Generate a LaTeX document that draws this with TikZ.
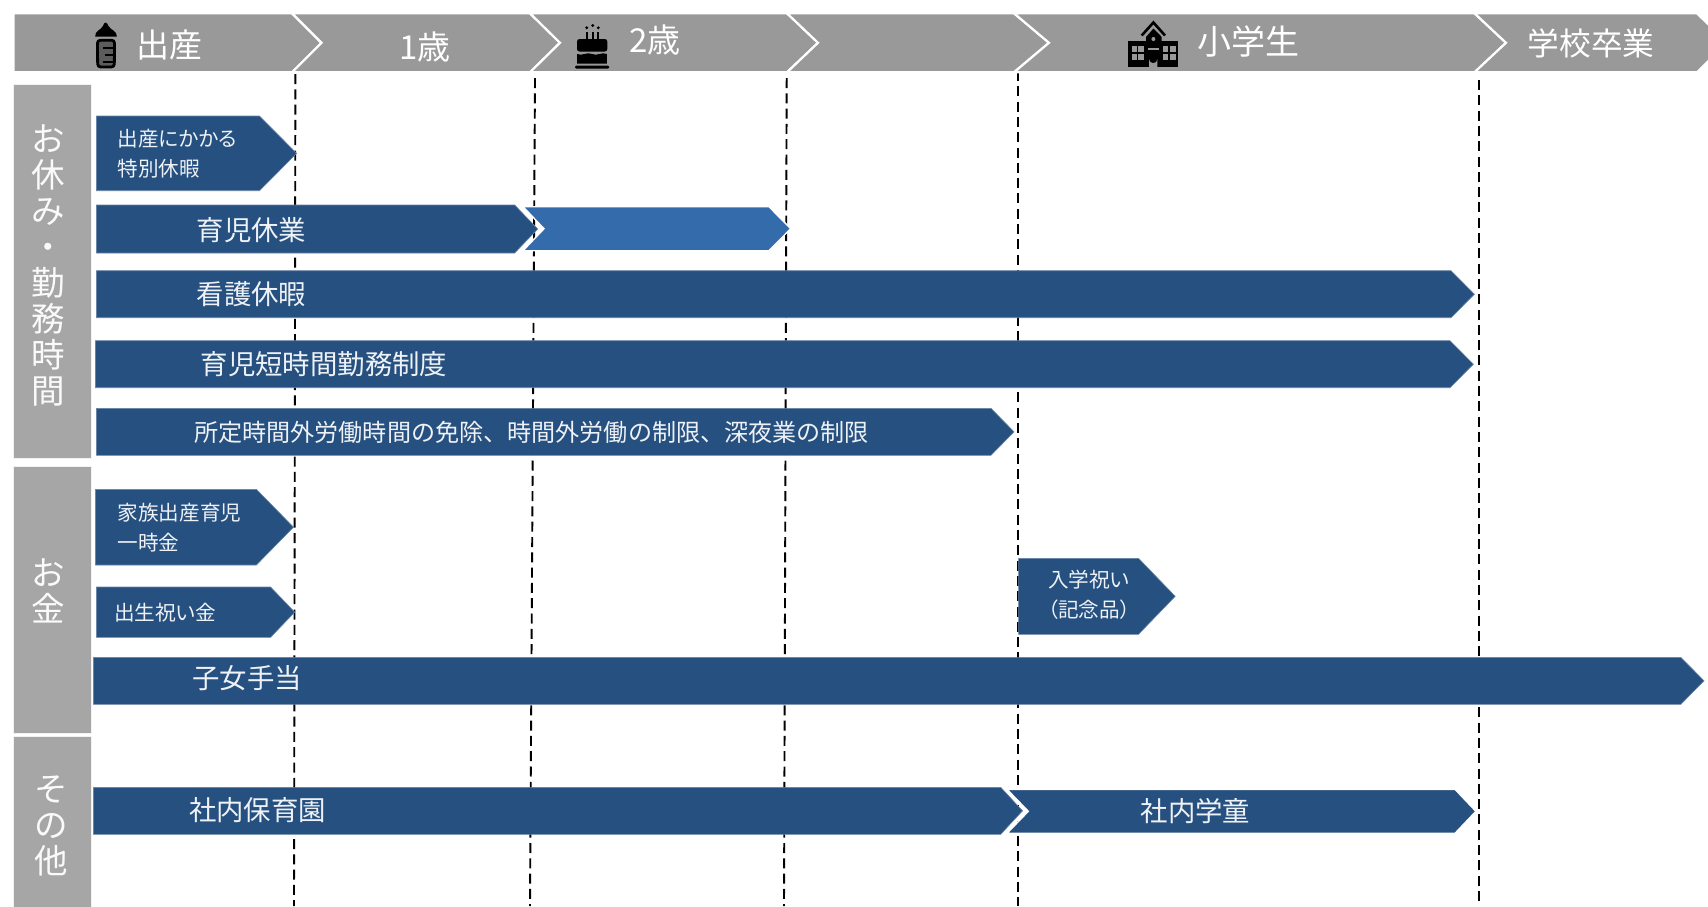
\documentclass[tikz,border=0pt]{standalone}
\usepackage{fontspec}
\setmainfont[RawFeature=+palt]{Noto Sans CJK JP}
\newfontfamily\fullwidth{Noto Sans CJK JP}
\usetikzlibrary{positioning}

\definecolor{headgray}{HTML}{999999}
\definecolor{sidegray}{HTML}{A6A6A6}
\definecolor{bardark}{HTML}{265080}
\definecolor{barlight}{HTML}{336BAB}

% style, left x, notch x, shoulder x, tip x, top y, bottom y
\newcommand{\pentbar}[7]{
    \path[#1] (#2,#6) -- (#4,#6) -- (#5,{(#6+#7)/2}) -- (#4,#7) -- (#2,#7) -- (#3,{(#6+#7)/2}) -- cycle;
}

\begin{document}
\begin{tikzpicture}[
    x=1pt, y=-1pt,
    % Shape styles
    headbar/.style={fill=headgray, draw=white, line width=2.2pt},
    bluebar/.style={fill=bardark, draw=bardark!70!white, line width=0.6pt},
    notchbar/.style={fill=#1, draw=white, line width=1.4pt},
    sidebox/.style={
        rectangle,
        fill=sidegray,
        draw=white!85!sidegray,
        line width=0.8pt,
        minimum width=77.6pt,
        inner sep=0pt
    },
    yearline/.style={draw=black, line width=1.9pt, dash pattern=on 10pt off 5.3pt},
    % Text styles
    headtext/.style={text=white, inner sep=0pt, font=\fontsize{33}{36}\selectfont},
    sidetext/.style={text=white!94!sidegray, inner sep=0pt, align=center, font=\fontsize{33.5}{36}\selectfont},
    bigtext/.style={text=white!92!bardark, inner sep=0pt, anchor=west, font=\fontsize{27.4}{30}\selectfont},
    midtext/.style={text=white!92!bardark, inner sep=0pt, anchor=west, font=\fullwidth\fontsize{24.1}{30}\selectfont},
    smalltext/.style={text=white!92!bardark, inner sep=0pt, anchor=west, align=left, font=\fontsize{20.6}{30}\selectfont}
]

\useasboundingbox (0,0) rectangle (1708,906);
\clip (0,0) rectangle (1708,906);

% Year lines
\coordinate (birthtop) at (295.4,74);
\coordinate (birthend) at (294,906);
\coordinate (onetop) at (535,78);
\coordinate (oneend) at (530,906);
\coordinate (twotop) at (786.7,78);
\coordinate (twoend) at (784,906);
\coordinate (schooltop) at (1017.7,71);
\coordinate (schoolend) at (1017.7,906);
\coordinate (gradtop) at (1479.2,80);
\coordinate (gradend) at (1479.2,906);
\foreach \lname in {birth, one, two, school, grad} {
    \draw[yearline] (\lname top) -- (\lname end);
}

% Header band
\foreach \xa/\xn/\xs/\xt in {13.4/13.4/292/321.5, 292/321.5/530/560, 530/560/787/818,
                             787/818/1014/1049, 1014/1049/1474.5/1506, 1474.5/1506/1697/1727} {
    \pentbar{headbar}{\xa}{\xn}{\xs}{\xt}{13.3}{72.3}
}
\node[headtext] (hbirth) at (169,44.5) {出産};
\node[headtext] (hone) at (425,47) {1歳};
\node[headtext] (htwo) at (655,40) {2歳};
\node[headtext, font=\fontsize{34}{36}\selectfont] (hschool) at (1248,42) {小学生};
\node[headtext, font=\fontsize{31.7}{36}\selectfont] (hgrad) at (1591,43) {学校卒業};

% Side column
\node[sidebox, minimum height=374pt] (sleave) at (52.2,271) {};
\node[sidebox, minimum height=267pt] (smoney) at (52.2,599.5) {};
\node[sidebox, minimum height=190pt] (sother) at (52.2,831.7) {};
\node[sidetext] (tleave) at (48.5,265.5) {お\\休\\み\\・\\勤\\務\\時\\間};
\node[sidetext] (tmoney) at (48,590.5) {お\\金};
\node[sidetext] (tother) at (51,825.5) {そ\\の\\他};

% Leave bars
\pentbar{bluebar}{96.5}{96.5}{259.5}{296.6}{116}{190.7}
\node[smalltext] (tbirthleave) at (117.5,153.5) {出産にかかる\\特別休暇};

\pentbar{bluebar}{96.5}{96.5}{514.7}{537.7}{205}{253}
\pentbar{notchbar=barlight}{523}{544}{769}{790.7}{206.7}{250.7}
\node[bigtext] (tchildcare) at (196.5,230) {育児休業};

\pentbar{bluebar}{96.5}{96.5}{1451}{1474.4}{270.7}{317.7}
\node[bigtext] (tnursing) at (196.5,294) {看護休暇};

\pentbar{bluebar}{95.5}{95.5}{1450}{1473.4}{340.7}{387.7}
\node[bigtext] (tshort) at (200.5,364) {育児短時間勤務制度};

\pentbar{bluebar}{96.5}{96.5}{991}{1014}{408.3}{455.3}
\node[midtext] (tovertime) at (194,432.5) {所定時間外労働時間の免除、時間外労働の制限、深夜業の制限};

% Money bars
\pentbar{bluebar}{95.3}{95.3}{256.4}{293.5}{489.3}{565}
\node[smalltext] (tlumpsum) at (117.5,528) {家族出産育児\\一時金};

\pentbar{bluebar}{96.4}{96.4}{270.6}{294.7}{587}{637.3}
\node[smalltext] (tbirthgift) at (114,612.7) {出生祝い金};

\pentbar{bluebar}{1018.6}{1018.6}{1138.5}{1175.2}{558.3}{634.3}
\node[smalltext, anchor=center, align=center] (tentry) at (1089,595) {入学祝い\\（記念品）};

\pentbar{bluebar}{93.4}{93.4}{1680.8}{1704}{657.3}{704.3}
\node[bigtext] (tallowance) at (192,678.5) {子女手当};

% Other bars
\pentbar{bluebar}{93.4}{93.4}{1000.7}{1022.5}{787.3}{834.3}
\node[bigtext] (tnursery) at (188.8,810) {社内保育園};

\pentbar{notchbar=bardark}{1007}{1028.3}{1455}{1475.9}{789.3}{833.3}
\node[bigtext] (tafterschool) at (1140.5,810.7) {社内学童};

% Bottle icon
\fill[black] (95.2,36.7) .. controls (94.5,31) and (101,30) .. (103,26) .. controls (104,21.5) and (107,21.5) .. (108.5,26)
    .. controls (110.5,30) and (117.5,31) .. (116.8,36.7) -- cycle;
\draw[black, fill=headgray!60!black, line width=2.8pt, rounded corners=3pt] (97.4,40.2) -- (114.6,40.2) -- (114.3,67) -- (97.7,67) -- cycle;
\draw[black, line width=2.2pt] (103,48) -- (113,48) (105,55) -- (113,55) (103,62) -- (113,62);

% Cake icon
\fill[black, rounded corners=1.2pt] (575,65.7) rectangle (609.3,68.5);
\fill[black, rounded corners=2.5pt] (577,39) rectangle (607.3,51.5);
\fill[black] (577,54) .. controls (582,56.5) and (587,51.5) .. (592,54) .. controls (597,56.5) and (602,51.5) .. (606.8,54) -- (606.8,63.5) -- (577,63.5) -- cycle;
\foreach \x in {586.7, 592.7, 598.3} {
    \draw[black, line width=2.2pt] (\x,32) -- (\x,40);
}
\foreach \x/\y in {586.7/27.8, 592.7/25.5, 598.3/27.8} {
    \fill[black] (\x,\y) circle (1.6pt);
}

% School icon
\fill[black] (1128,41) rectangle (1178,67);
\fill[black] (1146,46) -- (1146,37) -- (1153.5,28.5) -- (1161.7,37) -- (1161.7,46) -- cycle;
\draw[black, line width=2.6pt] (1141.7,35.5) -- (1153.4,22.5) -- (1165,35.5);
\fill[headgray] (1153.4,39) circle (2pt);
\fill[headgray] (1148,48.3) rectangle (1158.5,50.3);
\fill[headgray] (1149,67) -- (1149,59) arc (180:0:4.2) -- (1157.4,67) -- cycle;
\foreach \x in {1131.7, 1138.4, 1162.7, 1170} {
    \foreach \y in {45.7, 54.3} {
        \fill[headgray] (\x,\y) rectangle (\x+5.6,\y+5.8);
    }
}

\end{tikzpicture}
\end{document}
